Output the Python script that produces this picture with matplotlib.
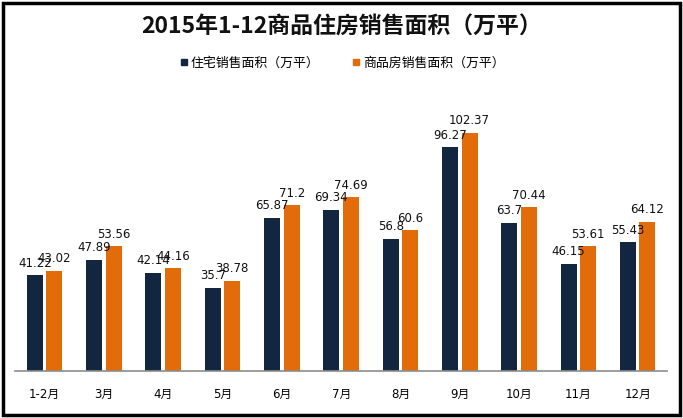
import numpy as np
import matplotlib.pyplot as plt
from matplotlib.patches import Rectangle
from matplotlib.lines import Line2D

plt.rcParams['font.family'] = ['DejaVu Sans', 'Noto Sans CJK SC']

# 数据
months = ["1-2月", "3月", "4月", "5月", "6月", "7月", "8月", "9月", "10月", "11月", "12月"]
zhuzhai = [41.22, 47.89, 42.14, 35.7, 65.87, 69.34, 56.8, 96.27, 63.7, 46.15, 55.43]
shangpin = [43.02, 53.56, 44.16, 38.78, 71.2, 74.69, 60.6, 102.37, 70.44, 53.61, 64.12]
names = ["住宅销售面积（万平）", "商品房销售面积（万平）"]
title = "2015年1-12商品住房销售面积（万平）"

c_dark = "#13263F"
c_orange = "#E36C0A"

fig = plt.figure(figsize=(6.83, 4.18), dpi=100)
ax = fig.add_axes([0.022, 0.1124, 0.955, 0.6675])

x = np.arange(len(months))
w = 0.27
b1 = ax.bar(x - 0.165, zhuzhai, w, color=c_dark)
b2 = ax.bar(x + 0.165, shangpin, w, color=c_orange)

# 数值标签（原图里有些是重叠的）
for bars, vals in ((b1, zhuzhai), (b2, shangpin)):
    for r, v in zip(bars, vals):
        ax.annotate(f"{v:g}", (r.get_x() + r.get_width() / 2, v),
                    xytext=(0, 4), textcoords="offset points",
                    ha="center", va="bottom", fontsize=8.5, color="#111111")

ax.set_xlim(-0.5, len(months) - 0.5)
ax.set_ylim(0, 120)
ax.set_xticks(x)
ax.set_xticklabels(months, fontsize=8.5)
ax.tick_params(axis="x", length=0, pad=12)
ax.set_yticks([])
for s in ["top", "right", "left"]:
    ax.spines[s].set_visible(False)
ax.spines["bottom"].set_color("#8c8c8c")
ax.spines["bottom"].set_linewidth(1.2)

# 标题和图例
fig.text(0.5, 0.935, title, ha="center", va="center", fontsize=16.5,
         fontweight="bold", family=["Noto Sans CJK SC"], color="#111111")
handles = [Line2D([], [], marker="s", ls="", color=c_dark, markersize=5),
           Line2D([], [], marker="s", ls="", color=c_orange, markersize=5)]
fig.legend(handles, names, loc="center", bbox_to_anchor=(0.5, 0.849), ncol=2,
           frameon=False, prop={"family": "Noto Sans CJK SC", "size": 9.3},
           handletextpad=0.1, columnspacing=2.5, handlelength=0.8)

# 外框
fig.patches.append(Rectangle((0.004, 0.008), 0.992, 0.985, transform=fig.transFigure,
                             fill=False, edgecolor="black", linewidth=2.5))

plt.savefig("out.png", dpi=100)
